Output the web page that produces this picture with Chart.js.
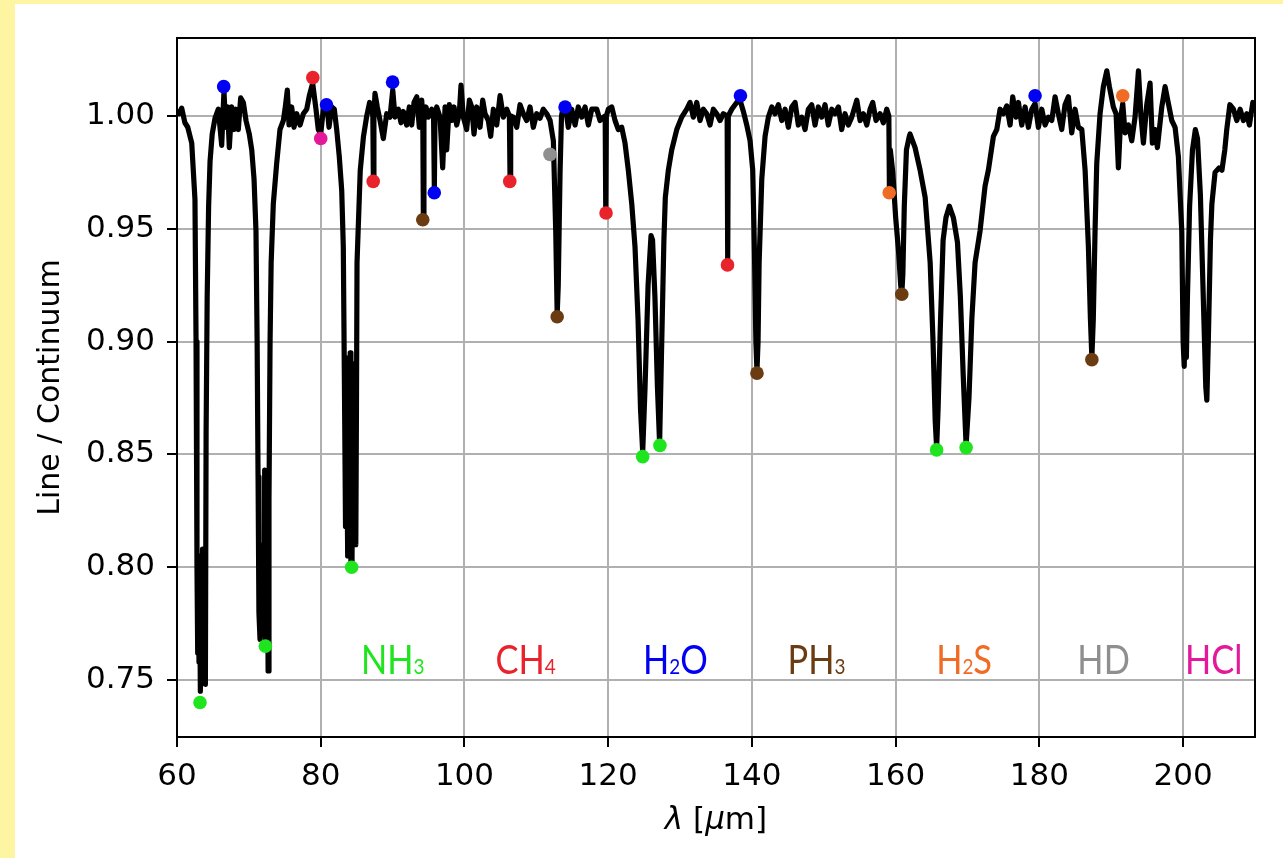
<!DOCTYPE html>
<html><head><meta charset="utf-8">
<script src="https://cdn.jsdelivr.net/npm/chart.js@4.4.1/dist/chart.umd.min.js"></script>
<style>
html,body{margin:0;padding:0;background:#fdf5a2;width:1283px;height:858px;overflow:hidden}
#wrap{position:absolute;left:15px;top:4px;width:1268px;height:854px;background:#fff}
canvas{display:block}
</style></head><body><div id="wrap"><canvas id="c" width="1268" height="854"></canvas></div>
<script>
// ---- spectrum (wavelength in micron, line / continuum) ----
const wavelengthUm = [
60.0,60.3,60.65,61.1,61.5,62.05,62.5,62.65,62.78,62.88,
62.97,63.06,63.15,63.25,63.35,63.45,63.55,63.65,63.75,63.85,
63.95,64.05,64.2,64.4,64.6,64.9,65.29,65.75,65.98,66.22,
66.44,66.54,66.7,66.82,67.03,67.28,67.61,67.93,68.21,68.53,
68.86,69.23,69.6,70.06,70.4,70.72,70.99,71.15,71.28,71.4,
71.55,71.7,71.85,72.0,72.1,72.2,72.3,72.4,72.5,72.6,
72.68,72.8,72.95,73.1,73.4,73.87,74.33,74.8,75.03,75.35,
75.59,75.96,76.28,76.66,77.12,77.58,78.05,78.41,78.88,79.34,
79.66,80.0,80.36,80.83,81.15,81.53,81.89,82.22,82.58,82.92,
83.14,83.3,83.45,83.6,83.75,83.9,84.0,84.1,84.2,84.35,
84.5,84.6,84.75,84.88,84.97,85.05,85.5,85.95,86.4,86.8,
87.09,87.25,87.32,87.4,87.55,87.87,88.25,88.71,89.18,89.64,
90.02,90.34,90.8,91.17,91.49,91.96,92.33,92.66,92.98,93.36,
93.72,94.05,94.2,94.28,94.36,94.65,94.97,95.44,95.7,95.81,
95.9,96.14,96.6,96.97,97.3,97.53,97.89,98.23,98.55,98.92,
99.28,99.52,99.84,100.31,100.68,101.01,101.33,101.71,102.17,102.54,
102.86,103.32,103.65,104.02,104.49,104.95,105.41,105.88,106.25,106.34,
106.43,106.8,107.27,107.73,108.19,108.66,109.12,109.58,110.05,110.51,
110.97,111.45,111.91,112.37,112.7,112.9,113.05,113.3,113.5,113.75,
114.0,114.45,114.92,115.39,115.84,116.32,116.78,117.24,117.71,118.41,
118.86,119.32,119.58,119.66,119.74,120.02,120.49,120.95,121.41,121.88,
122.34,122.8,123.28,123.73,124.15,124.5,124.8,125.13,125.55,125.96,
126.17,126.5,126.85,127.15,127.45,127.75,127.95,128.37,128.84,129.54,
130.23,130.93,131.39,131.85,132.32,132.78,133.24,133.71,134.17,134.63,
135.1,135.56,136.02,136.55,136.63,136.71,137.19,137.65,138.11,138.44,
138.81,139.28,139.74,140.11,140.35,140.55,140.7,140.85,141.0,141.37,
141.83,142.29,142.76,143.22,143.68,144.15,144.61,145.07,145.54,146.0,
146.46,146.93,147.39,147.85,148.32,148.78,149.24,149.71,150.17,150.63,
151.11,151.56,152.03,152.49,152.95,153.42,153.89,154.59,155.05,155.51,
155.98,156.44,156.81,157.27,157.83,158.29,158.76,159.05,159.13,159.25,
159.6,160.0,160.4,160.7,160.85,161.0,161.2,161.5,161.9,162.0,
162.7,163.4,164.1,164.8,165.2,165.5,165.7,165.9,166.2,166.6,
167.0,167.47,168.03,168.6,169.0,169.4,169.8,170.2,170.6,171.05,
171.74,172.44,172.9,173.6,174.07,174.53,174.99,175.46,175.92,176.29,
176.75,177.08,177.55,178.01,178.47,178.94,179.4,179.86,180.33,180.79,
181.25,181.72,182.18,182.64,183.11,183.57,184.03,184.5,184.96,185.42,
185.9,186.36,186.82,187.1,187.3,187.5,187.75,187.98,188.44,188.9,
189.38,189.74,190.29,190.67,190.99,191.32,191.6,191.92,192.39,192.85,
193.31,193.78,194.11,194.47,194.94,195.4,195.72,196.1,196.42,197.03,
197.49,197.95,198.42,198.88,199.34,199.81,200.0,200.15,200.3,200.45,
200.6,200.9,201.3,201.7,202.0,202.4,202.8,203.15,203.3,203.5,
203.8,204.0,204.44,205.0,205.4,205.8,206.07,206.5,207.0,207.47,
207.93,208.39,208.86,209.22,209.7,210.0
];
const lineOverContinuum = [
1.002,1.001,1.0035,0.997,0.995,0.988,0.963,0.90,0.80,0.762,
0.805,0.758,0.79,0.745,0.785,0.752,0.808,0.750,0.795,0.755,
0.748,0.86,0.92,0.96,0.980,0.992,0.999,1.003,0.995,0.987,
1.004,1.011,0.999,0.995,1.004,0.986,1.004,0.994,1.003,0.994,
1.008,1.006,0.998,0.992,0.985,0.972,0.949,0.90,0.84,0.78,
0.768,0.80,0.772,0.81,0.770,0.843,0.766,0.82,0.775,0.80,
0.754,0.83,0.90,0.935,0.961,0.979,0.994,0.998,1.003,1.0115,
0.996,1.004,0.995,1.001,0.996,1.001,1.003,1.009,1.0145,1.003,
0.994,0.992,1.003,1.006,0.995,1.004,1.003,0.994,0.982,0.967,
0.942,0.88,0.818,0.86,0.805,0.893,0.81,0.895,0.802,0.800,
0.89,0.81,0.85,0.81,0.87,0.935,0.976,0.991,1.000,1.006,
1.003,1.0,0.973,1.0,1.010,1.004,0.998,0.990,1.001,0.9995,
1.0115,0.9995,1.003,0.997,1.002,0.996,1.004,0.996,1.006,1.0085,
0.995,1.007,1.0,0.955,0.998,1.004,0.9995,1.003,1.0,0.968,
1.0,1.004,0.9995,0.977,1.004,0.985,1.005,0.998,1.004,0.996,
1.001,1.0137,0.9995,0.994,1.007,1.004,0.992,1.004,0.995,1.007,
1.001,0.998,0.991,1.003,0.996,1.009,0.9995,1.003,1.0,0.973,
1.0,0.9995,0.995,1.005,1.001,0.998,1.004,0.995,1.001,0.999,
1.003,1.001,0.998,0.989,0.949,0.912,0.925,0.975,1.0,1.004,
1.005,0.995,1.003,0.996,1.004,0.9995,1.004,0.996,1.003,1.003,
0.998,0.9995,1.0,0.958,1.0,1.003,1.004,0.998,0.994,0.995,
0.988,0.976,0.961,0.942,0.91,0.87,0.851,0.88,0.925,0.947,
0.945,0.92,0.88,0.855,0.90,0.945,0.964,0.976,0.985,0.994,
0.9995,1.003,1.006,0.9995,1.006,0.998,1.003,1.001,0.996,1.003,
1.001,0.998,1.001,1.0,0.936,1.0,1.003,1.005,1.007,1.006,
1.002,0.996,0.989,0.976,0.94,0.90,0.887,0.90,0.935,0.972,
0.991,0.9995,1.004,1.001,1.005,0.998,1.003,0.995,1.004,1.006,
0.996,0.9995,0.994,1.003,1.005,0.996,1.004,0.9995,1.005,0.996,
1.003,1.001,1.004,0.994,1.001,0.996,0.9995,1.007,0.998,1.001,
0.996,1.003,1.006,0.998,1.001,0.997,1.003,1.0,0.968,0.985,
0.975,0.955,0.94,0.925,0.921,0.93,0.96,0.985,0.991,0.992,
0.986,0.976,0.964,0.935,0.90,0.865,0.853,0.87,0.905,0.945,
0.955,0.960,0.955,0.944,0.92,0.885,0.854,0.875,0.91,0.935,
0.949,0.969,0.976,0.991,0.994,1.003,1.001,1.0045,0.996,1.0085,
0.9995,1.006,0.996,1.004,0.995,1.003,1.0055,0.995,1.003,0.996,
0.9995,0.998,1.0085,1.001,0.994,1.005,1.0085,0.9925,1.003,0.995,
0.994,0.976,0.942,0.91,0.893,0.91,0.95,0.979,1.001,1.013,
1.020,1.013,1.004,1.001,0.977,0.9995,1.0055,0.9925,0.996,0.989,
0.9995,1.020,1.001,0.988,1.005,1.0146,0.988,0.994,0.986,1.004,
1.013,1.0055,0.998,0.995,0.982,0.949,0.90,0.889,0.915,0.893,
0.92,0.96,0.985,0.994,0.99,0.965,0.92,0.88,0.874,0.90,
0.945,0.961,0.975,0.977,0.976,0.985,0.994,1.005,1.003,0.998,
1.003,0.998,1.001,0.996,1.006,1.004
];

// ---- identified lines per species ----
const nh3Wavelength = [63.2, 72.3, 84.3, 124.8, 127.2, 165.7, 169.8];
const nh3Value      = [0.740, 0.765, 0.800, 0.849, 0.854, 0.852, 0.853];
const ch4Wavelength = [78.9, 87.3, 106.3, 119.7, 136.6];
const ch4Value      = [1.017, 0.971, 0.971, 0.957, 0.934];
const h2oWavelength = [66.5, 80.8, 90.0, 95.8, 114.0, 138.4, 179.4];
const h2oValue      = [1.013, 1.005, 1.015, 0.966, 1.004, 1.009, 1.009];
const ph3Wavelength = [94.2, 112.9, 140.7, 160.85, 187.3];
const ph3Value      = [0.954, 0.911, 0.886, 0.921, 0.892];
const h2sWavelength = [159.1, 191.6];
const h2sValue      = [0.966, 1.009];
const hdWavelength  = [111.9];
const hdValue       = [0.983];
const hclWavelength = [80.0];
const hclValue      = [0.990];

const speciesNames = ['NH3', 'CH4', 'H2O', 'PH3', 'H2S', 'HD', 'HCl'];

const xTicks = [60, 80, 100, 120, 140, 160, 180, 200];
const yTicks = [0.75, 0.80, 0.85, 0.90, 0.95, 1.00];

// ---- styles ----
const speciesColors = ['#1fe51f', '#e8232b', '#0000f2', '#6b3c12', '#f06b24', '#8f8f8f', '#e3189a'];
const labelLayout = {
  centers: [90.03, 108.5, 129.35, 148.98, 169.52, 188.93, 204.24], // in data units (micron)
  baseline: 0.7527,
  size: 40,
  stretch: 0.86,
  family: 'Lato'
};
const tickFont = { family: 'DejaVu Sans', size: 31 };

const toPts = (xs, ys) => xs.map((v, i) => ({x: v, y: ys[i]}));
const markerSets = [
  [nh3Wavelength, nh3Value], [ch4Wavelength, ch4Value], [h2oWavelength, h2oValue],
  [ph3Wavelength, ph3Value], [h2sWavelength, h2sValue], [hdWavelength, hdValue], [hclWavelength, hclValue]
];

const markerDatasets = markerSets.map((s, i) => ({
  label: speciesNames[i],
  data: toPts(s[0], s[1]),
  showLine: false,
  pointRadius: 6.8,
  pointHoverRadius: 6.8,
  pointBackgroundColor: speciesColors[i],
  pointBorderWidth: 0,
  borderColor: speciesColors[i],
  order: 1
}));

const spectrumDataset = {
  label: 'spectrum',
  data: toPts(wavelengthUm, lineOverContinuum),
  showLine: true,
  borderColor: '#000',
  borderWidth: 5.2,
  pointRadius: 0,
  tension: 0,
  borderJoinStyle: 'round',
  borderCapStyle: 'round',
  order: 5
};

const speciesLabelPlugin = {
  id: 'speciesLabels',
  afterDatasetsDraw(chart) {
    const {ctx, scales: {x, y}} = chart;
    const base = y.getPixelForValue(labelLayout.baseline);
    const fMain = labelLayout.size + 'px ' + labelLayout.family;
    const fSub = Math.round(labelLayout.size * 0.56) + 'px ' + labelLayout.family;
    ctx.save();
    speciesNames.forEach((name, i) => {
      const segs = name.match(/[A-Za-z]+|\d+/g);
      let w = 0;
      segs.forEach(s => { ctx.font = /\d/.test(s) ? fSub : fMain; w += ctx.measureText(s).width; });
      const cx = x.getPixelForValue(labelLayout.centers[i]);
      ctx.save();
      ctx.translate(cx, base);
      ctx.scale(labelLayout.stretch, 1);
      ctx.fillStyle = speciesColors[i];
      ctx.textAlign = 'left';
      ctx.textBaseline = 'alphabetic';
      let px = -w / 2;
      segs.forEach(s => {
        ctx.font = /\d/.test(s) ? fSub : fMain;
        ctx.fillText(s, px, 0);
        px += ctx.measureText(s).width;
      });
      ctx.restore();
    });
    ctx.restore();
  }
};

const framePlugin = {
  id: 'frame',
  afterDatasetsDraw(chart) {
    const {ctx, chartArea: a} = chart;
    ctx.save();
    ctx.strokeStyle = '#000';
    ctx.lineWidth = 2;
    ctx.strokeRect(a.left, a.top, a.right - a.left, a.bottom - a.top);
    ctx.restore();
  }
};

const xTitlePlugin = {
  id: 'xTitle',
  afterDraw(chart) {
    const {ctx, chartArea: a} = chart;
    const parts = [['λ', true], [' [', false], ['μ', true], ['m]', false]];
    const up = '31px "DejaVu Sans"', it = 'italic 31px "DejaVu Sans"';
    ctx.save();
    let w = 0;
    parts.forEach(p => { ctx.font = p[1] ? it : up; w += ctx.measureText(p[0]).width; });
    let px = (a.left + a.right) / 2 - w / 2;
    const py = a.bottom + 84;
    ctx.fillStyle = '#000';
    ctx.textBaseline = 'middle';
    ctx.textAlign = 'left';
    parts.forEach(p => { ctx.font = p[1] ? it : up; ctx.fillText(p[0], px, py); px += ctx.measureText(p[0]).width; });
    ctx.restore();
  }
};

new Chart(document.getElementById('c'), {
  type: 'scatter',
  data: { datasets: [...markerDatasets, spectrumDataset] },
  options: {
    responsive: false,
    devicePixelRatio: 1,
    animation: false,
    layout: { padding: { left: 0, top: 34, right: 28, bottom: 0 } },
    plugins: { legend: { display: false }, tooltip: { enabled: false } },
    scales: {
      x: {
        type: 'linear',
        min: 60, max: 210,
        afterBuildTicks: s => { s.ticks = xTicks.map(v => ({value: v})); },
        afterFit: s => { s.height = 121; },
        grid: { color: '#b0b0b0', lineWidth: 2, tickColor: '#000', tickLength: 10, tickWidth: 2 },
        border: { color: '#000', width: 2 },
        ticks: { color: '#000', font: tickFont, padding: 11, maxRotation: 0,
                 callback: v => String(v) }
      },
      y: {
        type: 'linear',
        min: 0.72473, max: 1.03457,
        afterBuildTicks: s => { s.ticks = yTicks.map(v => ({value: v})); },
        afterFit: s => { s.width = 162; },
        grid: { color: '#b0b0b0', lineWidth: 2, tickColor: '#000', tickLength: 10, tickWidth: 2 },
        border: { color: '#000', width: 2 },
        ticks: { color: '#000', font: tickFont, padding: 12,
                 callback: v => Number(v).toFixed(2) },
        title: { display: true, text: 'Line / Continuum', color: '#000',
                 font: { family: 'DejaVu Sans', size: 30 }, padding: { top: 18, bottom: 0 } }
      }
    }
  },
  plugins: [speciesLabelPlugin, framePlugin, xTitlePlugin]
});
</script>
</body></html>
